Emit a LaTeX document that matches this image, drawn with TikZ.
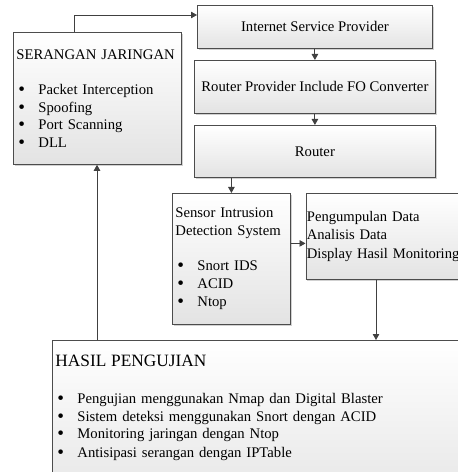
\documentclass[tikz,border=0pt]{standalone}
\usepackage{fontspec}
\setmainfont{Liberation Serif}
\usepackage{tikz}
\usetikzlibrary{arrows.meta,shadows}
\tikzset{
    every node/.style={font=\fontsize{14.7bp}{17.6bp}\selectfont},
    box/.style={rectangle, anchor=north west, draw=black!70, line width=.8bp,
        top color=white, bottom color=black!11, inner xsep=3bp, inner ysep=3bp,
        drop shadow={shadow xshift=1.2bp, shadow yshift=-1.5bp, fill=black!40, opacity=.45}},
    conn/.style={draw=black!75, line width=.9bp, -{Triangle[length=6bp,width=6.5bp]}}
}
\newcommand{\itm}{\hspace*{2bp}\makebox[20bp][l]{\raisebox{-1bp}[0pt][0pt]{\scalebox{1.3}{\textbullet}}}}

\begin{document}
\begin{tikzpicture}[x=1bp, y=-1bp]
  \clip (0,0) rectangle (458,472);

  \node[box, minimum width=235bp, minimum height=43bp] (isp) at (197,5) {Internet Service Provider};
  \node[box, minimum width=241bp, minimum height=53bp] (rpv) at (194,60) {Router Provider Include FO Converter};
  \node[box, minimum width=241bp, minimum height=52bp] (rtr) at (194,125) {Router};

  \node[box, text width=162bp, minimum height=132bp, align=left] (srg) at (13,32)
    {SERANGAN JARINGAN\\[17.6bp]
     \itm Packet Interception\\ \itm Spoofing\\ \itm Port Scanning\\ \itm DLL};

  \node[box, text width=112bp, minimum height=131bp, align=left,
        font=\fontsize{14.7bp}{18bp}\selectfont] (ids) at (172,193)
    {Sensor Intrusion\\ Detection System\\[17bp]
     \itm Snort IDS\\ \itm ACID\\ \itm Ntop};

  \node[box, text width=162bp, minimum height=86bp, align=left, inner xsep=1bp,
        font=\fontsize{14.6bp}{18.4bp}\selectfont] (mon) at (305.5,193)
    {Pengumpulan Data\\ Analisis Data\\ Display Hasil Monitoring};

  \node[box, text width=420bp, align=left, inner ysep=15bp] (hsl) at (52,340)
    {{\fontsize{17.3bp}{20bp}\selectfont HASIL PENGUJIAN}\\[19bp]
     \itm Pengujian menggunakan Nmap dan Digital Blaster\\
     \itm Sistem deteksi menggunakan Snort dengan ACID\\
     \itm Monitoring jaringan dengan Ntop\\[1.5bp]
     \itm Antisipasi serangan dengan IPTable\\[30bp] \mbox{}};

  \coordinate (ispin) at ([yshift=-10bp]isp.north west);

  \draw[conn] ([xshift=61bp]srg.north west) |- (ispin);
  \draw[conn] (isp.south -| rpv.north) -- (rpv.north);
  \draw[conn] (rpv.south) -- (rtr.north);
  \draw[conn] (ids.north |- rtr.south) -- (ids.north);
  \draw[conn] ([yshift=15.5bp]ids.east) -- ([yshift=15.5bp]ids.east -| mon.west);
  \draw[conn] ([xshift=70.5bp]mon.south west) -- ([xshift=70.5bp]mon.south west |- hsl.north);
  \draw[conn] ([xshift=84bp]srg.south west |- hsl.north) -- ([xshift=84bp]srg.south west);
\end{tikzpicture}
\end{document}
